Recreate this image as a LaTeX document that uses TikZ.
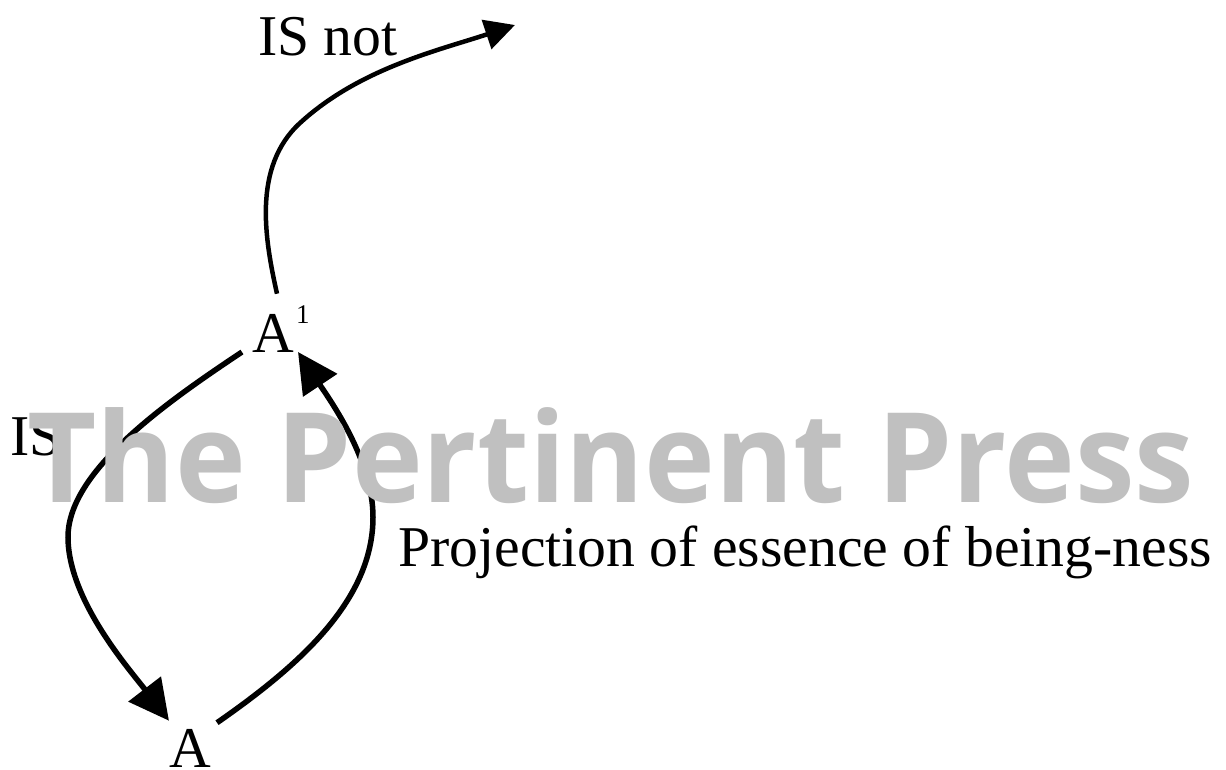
\documentclass[tikz,border=0pt]{standalone}
\usepackage{fontspec}
\setmainfont{Liberation Serif}
\newfontfamily\wmfont{Open Sans}
\usetikzlibrary{arrows.meta}
\definecolor{wmgray}{HTML}{C0C0C0}
\tikzset{
  lbl/.style={font=\fontsize{57.7}{60}\selectfont, inner sep=0pt, anchor=base west},
  flow/.style={line width=5.5pt, -{Triangle[length=40pt,width=40pt]}},
}
\begin{document}
\begin{tikzpicture}[x=1pt,y=-1pt]
  \useasboundingbox (0,0) rectangle (1226,769);
  \node[lbl, anchor=base] (a1) at (273,352) {A};
  \node[anchor=base west, inner sep=0pt, font=\fontsize{27}{27}\selectfont] (sup) at (296,323) {1};
  \node[lbl, anchor=base] (a0) at (190,767) {A};
  \node[lbl] (isnot) at (258,55) {IS not};
  \node[lbl] (is) at (10,455) {IS};
  \node[lbl] (proj) at (398,566) {Projection of essence of being-ness};
  \coordinate (away) at (515,25);
  % A1 out to the top right
  \draw[line width=4.5pt, -{Triangle[length=30pt,width=30pt]}] ([xshift=4pt,yshift=20pt]a1.north)
    .. controls (265,240) and (252,167) .. (300,123) .. controls (360,68) and (440,50) .. (away);
  % A1 down to A
  \draw[flow] ([xshift=-10pt]a1.base west) .. controls (170,400) and (68,470) .. (68,537)
    .. controls (68,600) and (130,670) .. ([yshift=8pt]a0.north west);
  % A back up to A1
  \draw[flow] ([xshift=6pt,yshift=6pt]a0.north east) .. controls (300,665) and (373,600) .. (373,517)
    .. controls (373,460) and (330,400) .. ([xshift=4pt]a1.base east);
  \node[font=\wmfont\fontsize{125}{130}\selectfont\bfseries, text=wmgray, anchor=base west, inner sep=0pt] (wm) at (27,502) {\scalebox{0.958}[1]{The Pertinent Press}};
\end{tikzpicture}
\end{document}
